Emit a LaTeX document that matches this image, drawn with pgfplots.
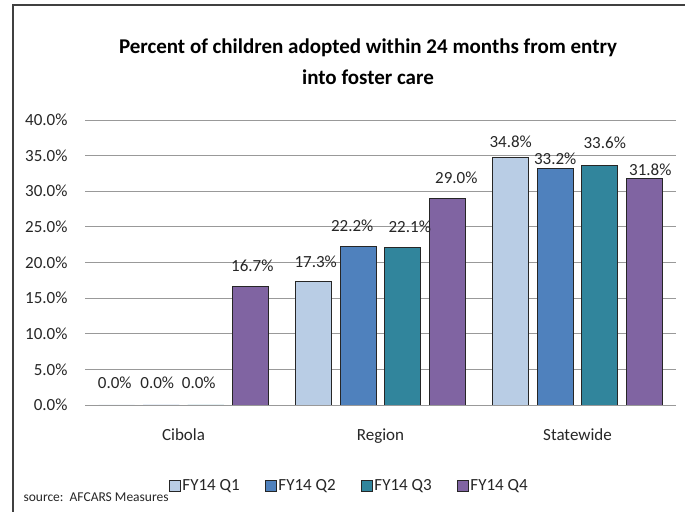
\documentclass[border=0pt]{standalone}
\usepackage{pgfplots}
\pgfplotsset{compat=1.18}
\usepackage{pgfplotstable}
\usepackage{fontspec}
\setmainfont{Carlito}

\definecolor{qone}{HTML}{B9CDE5}
\definecolor{qtwo}{HTML}{4F81BD}
\definecolor{qthree}{HTML}{31859C}
\definecolor{qfour}{HTML}{8064A2}
\definecolor{txt}{HTML}{262626}

% x = category, y = percent, dx/dy = label offset (bp)
\pgfplotstableread{
x y dx dy
0 0.0 -2 22
1 17.3 2 20
2 34.8 0 15
}\qonetab
\pgfplotstableread{
x y dx dy
0 0.0 -4 22
1 22.2 -6 21
2 33.2 0 9.5
}\qtwotab
\pgfplotstableread{
x y dx dy
0 0.0 -7 22
1 22.1 7 21
2 33.6 5 22.5
}\qthreetab
\pgfplotstableread{
x y dx dy
0 16.7 2 20
1 29.0 9 21
2 31.8 6 8.5
}\qfourtab

\begin{document}
\begin{tikzpicture}[font=\fontsize{17bp}{19bp}\selectfont]
\begin{axis}[
    at={(183.5bp,107bp)}, anchor=origin,
    scale only axis, width=591bp, height=285bp,
    xmin=-0.5, xmax=2.5, ymin=0, ymax=40,
    ybar, bar width=0.183,
    xtick={0,1,2}, xticklabels={Cibola,Region,Statewide},
    ytick={0,5,...,40},
    yticklabel={\pgfmathprintnumber[fixed,fixed zerofill,precision=1]{\tick}\%},
    /pgf/number format/assume math mode=true,
    major tick length=0pt,
    axis line style={draw=none},
    ymajorgrids, major grid style={black!40,line width=0.8bp},
    yticklabel style={xshift=-14bp,text=txt},
    xticklabel style={yshift=-20bp,text=txt},
    every axis plot/.append style={draw=black!85,line width=0.9bp},
    nodes near coords={\pgfmathprintnumber[fixed,fixed zerofill,precision=1]{\pgfplotspointmeta}\%},
    every node near coord/.append style={anchor=center,text=txt,xshift={\dx*1bp},yshift={\dy*1bp},
      /pgf/number format/assume math mode=true},
    visualization depends on={\thisrow{dx}\as\dx},
    visualization depends on={\thisrow{dy}\as\dy},
    legend columns=4,
    legend style={draw=none,fill=none,at={(0.447,-0.284)},anchor=center,
      /tikz/every even column/.append style={column sep=23bp},
      font=\fontsize{17bp}{19bp}\selectfont,text=txt},
    legend image code/.code={\draw[#1,line width=0.8bp] (0bp,-5.5bp) rectangle (11bp,5.5bp);},
]
\addplot[bar shift=-0.339,fill=qone] table[x=x,y=y] {\qonetab};
\addplot[bar shift=-0.113,fill=qtwo] table[x=x,y=y] {\qtwotab};
\addplot[bar shift=0.113,fill=qthree] table[x=x,y=y] {\qthreetab};
\addplot[bar shift=0.339,fill=qfour] table[x=x,y=y] {\qfourtab};
\legend{FY14 Q1,FY14 Q2,FY14 Q3,FY14 Q4}
\end{axis}
\begin{scope}[x=1bp,y=1bp]
\draw[line width=2bp,black!75] (13,0) -- (13,507) -- (685,507);
\node[font=\fontsize{21bp}{31bp}\selectfont\bfseries,align=center,text=black] at (368,450)
  {Percent of children adopted within 24 months from entry\\into foster care};
\node[anchor=west,font=\fontsize{13.5bp}{15bp}\selectfont,text=txt] at (20,15) {source:\ \ AFCARS Measures};
\pgfresetboundingbox
\path[use as bounding box] (0,0) rectangle (685,512);
\end{scope}
\end{tikzpicture}
\end{document}
